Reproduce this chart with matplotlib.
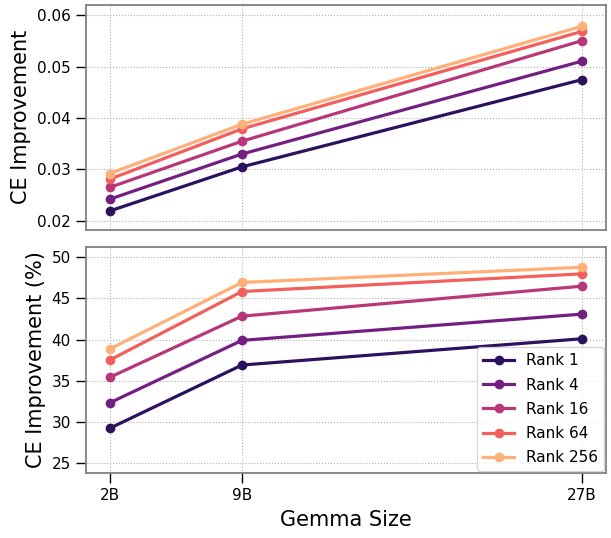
import matplotlib
matplotlib.use("Agg")
import matplotlib.pyplot as plt
import seaborn as sns

# Gemma sizes (billions) and tick labels
sizes = [2, 9, 27]
size_labels = ["2B", "9B", "27B"]
ranks = ["Rank 1", "Rank 4", "Rank 16", "Rank 64", "Rank 256"]

# absolute CE improvement, one list per rank
ce_rank1 = [0.0219, 0.0305, 0.0475]
ce_rank4 = [0.0242, 0.0330, 0.0511]
ce_rank16 = [0.0265, 0.0355, 0.0551]
ce_rank64 = [0.0281, 0.0379, 0.0569]
ce_rank256 = [0.0292, 0.0388, 0.0579]

# relative CE improvement (%)
pct_rank1 = [29.2, 36.9, 40.1]
pct_rank4 = [32.3, 39.9, 43.1]
pct_rank16 = [35.4, 42.85, 46.5]
pct_rank64 = [37.5, 45.85, 48.0]
pct_rank256 = [38.85, 46.95, 48.8]

ce_all = [ce_rank1, ce_rank4, ce_rank16, ce_rank64, ce_rank256]
pct_all = [pct_rank1, pct_rank4, pct_rank16, pct_rank64, pct_rank256]

colors = sns.color_palette("magma", len(ranks))

fig = plt.figure(figsize=(6.11, 5.38), dpi=100)
ax1 = fig.add_axes([0.1408, 0.5725, 0.8505, 0.4188])
ax2 = fig.add_axes([0.1408, 0.1214, 0.8505, 0.4200], sharex=ax1)

for i, name in enumerate(ranks):
    ax1.plot(sizes, ce_all[i], marker="o", color=colors[i], linewidth=2.3,
             markersize=6, label=name)
    ax2.plot(sizes, pct_all[i], marker="o", color=colors[i], linewidth=2.3,
             markersize=6, label=name)

ax1.set_ylim(0.0182, 0.0621)
ax1.set_yticks([0.02, 0.03, 0.04, 0.05, 0.06])
ax2.set_ylim(23.8, 51.3)
ax2.set_yticks([25, 30, 35, 40, 45, 50])

ax2.set_xticks(sizes)
ax2.set_xticklabels(size_labels)
plt.setp(ax1.get_xticklabels(), visible=False)

ax1.set_ylabel("CE Improvement", fontsize=15)
ax2.set_ylabel("CE Improvement (%)", fontsize=15)
ax2.set_xlabel("Gemma Size", fontsize=15, labelpad=5)

for ax in (ax1, ax2):
    ax.grid(True, linestyle=":", color="#b0b0b0", linewidth=0.8)
    ax.set_axisbelow(True)
    for sp in ax.spines.values():
        sp.set_color("#808080")
        sp.set_linewidth(1.3)
    ax.tick_params(axis="both", which="major", length=7, width=1,
                   labelsize=11, color="black", pad=4)
ax1.tick_params(axis="x", length=0)

leg = ax2.legend(loc="lower right", fontsize=11, borderaxespad=0.1,
                 framealpha=0.8, labelspacing=0.6)

fig.savefig("out.png", dpi=100)
